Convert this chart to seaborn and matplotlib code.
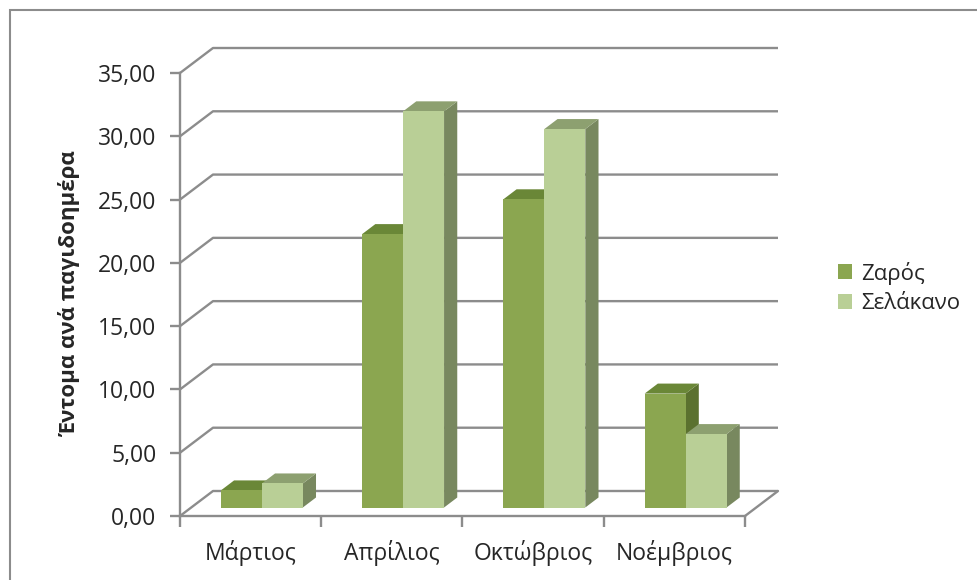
import numpy as np
import pandas as pd
import matplotlib
matplotlib.use("Agg")
import matplotlib.pyplot as plt
from matplotlib.patches import Polygon, Patch, Rectangle
import seaborn as sns

# Data
months = ["Μάρτιος", "Απρίλιος", "Οκτώβριος", "Νοέμβριος"]
sites = ["Ζαρός", "Σελάκανο"]
zaros = [1.35, 21.6, 24.35, 9.0]
selakano = [1.9, 31.3, 29.9, 5.8]
y_ticks = [0, 5, 10, 15, 20, 25, 30, 35]
y_label = "Έντομα ανά παγιδοημέρα"

# Colours: front, top, side for each series
front_cols = ["#8BA650", "#B9CF96"]
top_cols = ["#6A8737", "#8DA070"]
side_cols = ["#5B712F", "#78885F"]
grid_col = "#8C8C8C"
text_col = "#262626"

sns.set_theme(style="white")
plt.rcParams["font.family"] = ["Open Sans", "DejaVu Sans"]

df = pd.DataFrame({
    "month": months * 2,
    "site": [sites[0]] * 4 + [sites[1]] * 4,
    "value": zaros + selakano,
})

W, H = 978, 580
fig = plt.figure(figsize=(W / 100, H / 100), dpi=100)

# Outer chart frame
fig.add_artist(Rectangle((10 / W, -0.05), 1.1, 1 - 10 / H + 0.05,
                         transform=fig.transFigure, fill=False,
                         edgecolor="#8C8C8C", lw=1.5))

# Front plane of the 3D box
x0p, x1p, y0p, y1p = 180, 745, 516, 73
ax = fig.add_axes([x0p / W, 1 - y0p / H, (x1p - x0p) / W, (y0p - y1p) / H])
ax.set_xlim(-0.5, 3.5)
ax.set_ylim(0, 35)
ax.patch.set_alpha(0)

# Depth offsets of the back wall in data units
px_per_x = (x1p - x0p) / 4.0
px_per_y = (y0p - y1p) / 35.0
DX = 33 / px_per_x
DY = 25 / px_per_y
D_FRONT, D_BACK = 0.34, 0.74

sns.barplot(data=df, x="month", y="value", hue="site", order=months,
            hue_order=sites, palette=front_cols, saturation=1, width=0.58,
            gap=0, legend=False, ax=ax, edgecolor="none", linewidth=0)

# Gridlines on side and back walls
for v in y_ticks:
    ax.plot([-0.5, -0.5 + DX, 3.5 + DX], [v, v + DY, v + DY],
            color=grid_col, lw=1.7, clip_on=False, zorder=1,
            solid_capstyle="butt")
# Floor right edge
ax.plot([3.5, 3.5 + DX], [0, DY], color=grid_col, lw=1.7, clip_on=False, zorder=1)

# Extrude bars into boxes
bars = []
for k, cont in enumerate(ax.containers):
    for p in cont.patches:
        bars.append((p.get_x(), k, p))
bars.sort(key=lambda t: t[0])
for i, (_, k, p) in enumerate(bars):
    x, w, h = p.get_x(), p.get_width(), p.get_height()
    fx, fy = D_FRONT * DX, D_FRONT * DY
    bx, by = D_BACK * DX, D_BACK * DY
    z = 3 + i * 0.01
    side = Polygon([(x + w + fx, fy), (x + w + bx, by),
                    (x + w + bx, h + by), (x + w + fx, h + fy)],
                   closed=True, facecolor=side_cols[k], edgecolor="none",
                   zorder=z, clip_on=False)
    top = Polygon([(x + fx, h + fy), (x + w + fx, h + fy),
                   (x + w + bx, h + by), (x + bx, h + by)],
                  closed=True, facecolor=top_cols[k], edgecolor="none",
                  zorder=z + 0.001, clip_on=False)
    ax.add_patch(side)
    ax.add_patch(top)
    p.set_x(x + fx)
    p.set_y(fy)
    p.set_zorder(z + 0.002)
    p.set_clip_on(False)

# Axes styling
for s in ["top", "right"]:
    ax.spines[s].set_visible(False)
for s in ["left", "bottom"]:
    ax.spines[s].set_color(grid_col)
    ax.spines[s].set_linewidth(1.7)
    ax.spines[s].set_zorder(2)

ax.set_yticks(y_ticks)
ax.set_yticklabels([f"{v:.2f}".replace(".", ",") for v in y_ticks])
ax.tick_params(axis="y", left=True, length=7, width=1.7, color=grid_col,
               labelsize=16.5, labelcolor=text_col, pad=10)

ax.set_xticks([-0.5, 0.5, 1.5, 2.5, 3.5])
ax.set_xticklabels([])
ax.set_xticks(range(4), minor=True)
ax.set_xticklabels(months, minor=True)
ax.tick_params(axis="x", which="major", bottom=True, length=8, width=1.7,
               color=grid_col)
ax.tick_params(axis="x", which="minor", bottom=False, length=0,
               labelsize=16.5, labelcolor=text_col, pad=17)
ax.set_xlabel("")
ax.set_ylabel(y_label, fontsize=16, fontweight="bold", color=text_col,
              labelpad=12)

handles = [Patch(facecolor=front_cols[i], edgecolor="none", label=sites[i])
           for i in range(2)]
fig.legend(handles=handles, loc="center left",
           bbox_to_anchor=(818 / W, 1 - 288 / H), frameon=False,
           fontsize=16, labelcolor=text_col, handlelength=0.65,
           handleheight=0.65, handletextpad=0.4, labelspacing=0.4)

fig.savefig("out.png", dpi=100)
